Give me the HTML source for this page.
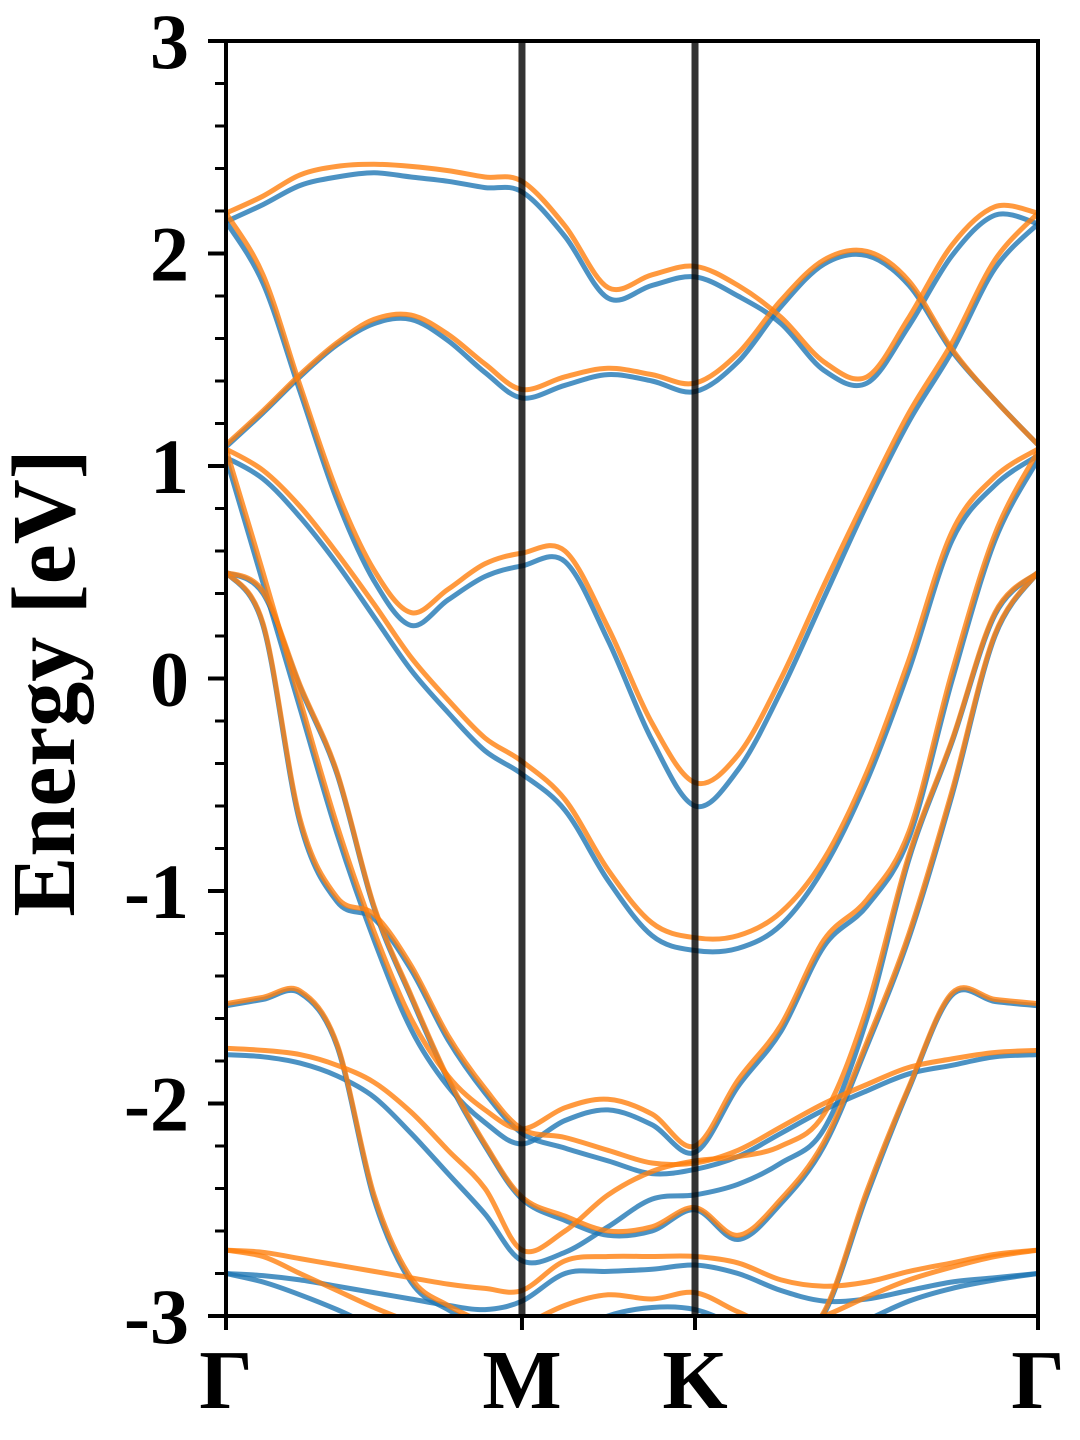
<!DOCTYPE html>
<html><head><meta charset="utf-8"><style>
html,body{margin:0;padding:0;background:#fff;}
svg{display:block;}
text{font-family:"Liberation Serif",serif;font-weight:bold;fill:#000;}
</style></head><body>
<svg id="chart" width="1080" height="1440" viewBox="0 0 1080 1440" xmlns="http://www.w3.org/2000/svg">
<defs><clipPath id="plotclip"><rect x="226" y="41" width="812" height="1275"/></clipPath></defs>
<rect x="0" y="0" width="1080" height="1440" fill="#fff"/>
<g id="bands" clip-path="url(#plotclip)"></g>
<g id="axes"></g>
</svg>
<script>
// k-path coordinates (fraction along path)
const kGrid = [0,0.0456,0.0911,0.1367,0.1823,0.2278,0.2734,0.3190,0.3645,0.4175,0.4704,0.5246,0.5776,0.6305,0.6835,0.7365,0.7894,0.8411,0.8941,0.9470,1];
const kTicks = [0,0.3645,0.5776,1];
const kLabels = ["Γ","M","K","Γ"];
const yTicks = [3,2,1,0,-1,-2,-3];
const yTickLabels = ["3","2","1","0","-1","-2","-3"];

const blueA = [2.15,2.23,2.32,2.36,2.38,2.36,2.34,2.31,2.29,2.08,1.79,1.85,1.89,1.80,1.67,1.45,1.39,1.66,1.99,2.18,2.14];
const orangeA = [2.19,2.27,2.37,2.41,2.42,2.41,2.39,2.36,2.34,2.13,1.84,1.90,1.94,1.85,1.70,1.49,1.42,1.70,2.04,2.22,2.19];
const blueB = [1.09,1.25,1.42,1.57,1.67,1.69,1.59,1.44,1.32,1.38,1.43,1.40,1.35,1.49,1.75,1.95,1.99,1.85,1.54,1.31,1.10];
const orangeB = [1.10,1.26,1.43,1.58,1.69,1.71,1.62,1.48,1.36,1.42,1.46,1.43,1.39,1.53,1.78,1.97,2.01,1.87,1.55,1.31,1.10];
const blueC = [2.15,1.86,1.35,0.84,0.46,0.25,0.37,0.48,0.53,0.55,0.18,-0.29,-0.60,-0.43,-0.06,0.38,0.82,1.21,1.54,1.93,2.14];
const orangeC = [2.19,1.90,1.38,0.88,0.51,0.31,0.42,0.54,0.59,0.60,0.24,-0.21,-0.49,-0.36,0.0,0.44,0.86,1.25,1.58,1.97,2.19];
const blueD = [1.04,0.94,0.76,0.54,0.29,0.04,-0.16,-0.34,-0.45,-0.62,-0.95,-1.21,-1.28,-1.27,-1.16,-0.89,-0.48,0.04,0.65,0.91,1.05];
const orangeD = [1.08,0.98,0.81,0.59,0.35,0.10,-0.10,-0.28,-0.39,-0.57,-0.90,-1.15,-1.22,-1.21,-1.10,-0.85,-0.44,0.09,0.69,0.95,1.08];
const blueE1 = [1.04,0.45,-0.14,-0.73,-1.23,-1.65,-1.92,-2.09,-2.19,-2.08,-2.03,-2.10,-2.23,-1.92,-1.66,-1.26,-1.07,-0.75,-0.01,0.65,1.03];
const orangeE1 = [1.08,0.50,-0.10,-0.69,-1.19,-1.60,-1.87,-2.03,-2.12,-2.02,-1.98,-2.05,-2.20,-1.89,-1.63,-1.23,-1.04,-0.72,0.03,0.68,1.07];
const blueE2 = [0.50,0.25,-0.68,-1.05,-1.13,-1.37,-1.70,-1.95,-2.14,-2.21,-2.27,-2.33,-2.31,-2.25,-2.14,-2.03,-1.94,-1.86,-1.82,-1.78,-1.77];
const orangeE2 = [0.50,0.26,-0.66,-1.03,-1.11,-1.35,-1.68,-1.93,-2.12,-2.16,-2.22,-2.28,-2.28,-2.22,-2.11,-2.00,-1.91,-1.83,-1.79,-1.76,-1.75];
const blueE3 = [0.50,0.40,-0.04,-0.45,-1.08,-1.50,-1.89,-2.20,-2.45,-2.55,-2.62,-2.60,-2.50,-2.64,-2.47,-2.20,-1.73,-1.22,-0.55,0.20,0.50];
const orangeE3 = [0.50,0.41,-0.03,-0.44,-1.07,-1.49,-1.88,-2.19,-2.44,-2.53,-2.60,-2.58,-2.49,-2.62,-2.45,-2.18,-1.71,-1.20,-0.53,0.21,0.50];
const blueF = [-1.77,-1.78,-1.81,-1.87,-1.97,-2.14,-2.33,-2.52,-2.74,-2.70,-2.58,-2.45,-2.43,-2.38,-2.28,-2.12,-1.60,-0.85,-0.30,0.30,0.50];
const orangeF = [-1.74,-1.75,-1.77,-1.82,-1.90,-2.04,-2.22,-2.40,-2.69,-2.60,-2.43,-2.32,-2.27,-2.25,-2.20,-2.05,-1.55,-0.83,-0.29,0.31,0.50];
const blueG = [-1.54,-1.51,-1.48,-1.73,-2.45,-2.84,-2.97,-3.05,-3.10,-3.20,-3.30,-3.30,-3.30,-3.25,-3.15,-2.99,-2.43,-1.93,-1.49,-1.52,-1.54];
const orangeG = [-1.53,-1.50,-1.47,-1.72,-2.43,-2.82,-2.95,-3.03,-3.08,-3.20,-3.30,-3.30,-3.30,-3.25,-3.14,-2.98,-2.41,-1.92,-1.48,-1.51,-1.53];
const blueH = [-2.80,-2.81,-2.83,-2.86,-2.89,-2.92,-2.95,-2.97,-2.93,-2.80,-2.79,-2.78,-2.76,-2.80,-2.88,-2.93,-2.92,-2.88,-2.84,-2.82,-2.80];
const orangeH = [-2.69,-2.70,-2.73,-2.76,-2.79,-2.82,-2.85,-2.87,-2.88,-2.74,-2.72,-2.72,-2.72,-2.75,-2.83,-2.86,-2.84,-2.79,-2.75,-2.71,-2.69];
const blueI = [-2.80,-2.84,-2.90,-2.97,-3.05,-3.12,-3.18,-3.22,-3.25,-3.10,-3.00,-2.96,-2.97,-3.05,-3.15,-3.12,-3.02,-2.93,-2.87,-2.83,-2.80];
const orangeI = [-2.69,-2.72,-2.80,-2.88,-2.96,-3.03,-3.10,-3.15,-3.05,-2.95,-2.90,-2.92,-2.89,-2.98,-3.06,-3.00,-2.91,-2.83,-2.77,-2.72,-2.69];

const blueBands = [blueA,blueB,blueC,blueD,blueE1,blueE2,blueE3,blueF,blueG,blueH,blueI];
const orangeBands = [orangeA,orangeB,orangeC,orangeD,orangeE1,orangeE2,orangeE3,orangeF,orangeG,orangeH,orangeI];
const bandNames = ["a","b","c","d","e1","e2","e3","f","g","h","i"];

const X0=226, X1=1038, Y0=41, Y1=1316, EMAX=3, EMIN=-3;
function xScale(k){return X0+(X1-X0)*k;}
function yScale(e){return Y0+(EMAX-e)/(EMAX-EMIN)*(Y1-Y0);}
const NS="http://www.w3.org/2000/svg";

function smoothPath(vals){
  const p=vals.map((v,i)=>[xScale(kGrid[i]),yScale(v)]);
  let d="M"+p[0][0].toFixed(1)+","+p[0][1].toFixed(1);
  for(let i=0;i<p.length-1;i++){
    const p0=p[Math.max(0,i-1)],p1=p[i],p2=p[i+1],p3=p[Math.min(p.length-1,i+2)];
    const c1x=p1[0]+(p2[0]-p0[0])/6,c1y=p1[1]+(p2[1]-p0[1])/6;
    const c2x=p2[0]-(p3[0]-p1[0])/6,c2y=p2[1]-(p3[1]-p1[1])/6;
    d+=" C"+c1x.toFixed(1)+","+c1y.toFixed(1)+" "+c2x.toFixed(1)+","+c2y.toFixed(1)+" "+p2[0].toFixed(1)+","+p2[1].toFixed(1);
  }
  return d;
}
const bandsG=document.getElementById('bands');
function drawSet(set,color,prefix){
  set.forEach((vals,i)=>{
    const path=document.createElementNS(NS,'path');
    path.setAttribute('d',smoothPath(vals));
    path.setAttribute('fill','none');
    path.setAttribute('stroke',color);
    path.setAttribute('stroke-width','5');
    path.setAttribute('stroke-opacity','0.8');
    
    
    bandsG.appendChild(path);
  });
}
drawSet(blueBands,'#1f77b4','blue');
drawSet(orangeBands,'#ff7f0e','orange');

const axesG=document.getElementById('axes');
kTicks.slice(1,3).forEach((k,i)=>{
  const l=document.createElementNS(NS,'line');
  l.setAttribute('x1',xScale(k));l.setAttribute('x2',xScale(k));
  l.setAttribute('y1',Y0);l.setAttribute('y2',Y1);
  l.setAttribute('stroke','#000');l.setAttribute('stroke-opacity','0.8');l.setAttribute('stroke-width','7');
  
  
  axesG.appendChild(l);
});
const fr=document.createElementNS(NS,'rect');
fr.setAttribute('x',X0);fr.setAttribute('y',Y0);fr.setAttribute('width',X1-X0);fr.setAttribute('height',Y1-Y0);
fr.setAttribute('fill','none');fr.setAttribute('stroke','#000');fr.setAttribute('stroke-width','4');


axesG.appendChild(fr);
for(let m=0;m<=30;m++){
  const e=EMIN+m*0.2;
  if(m%5===0) continue;
  const t=document.createElementNS(NS,'line');
  t.setAttribute('x1',X0-11);t.setAttribute('x2',X0);
  t.setAttribute('y1',yScale(e));t.setAttribute('y2',yScale(e));
  t.setAttribute('stroke','#000');t.setAttribute('stroke-width','3');
  
  
  axesG.appendChild(t);
}
yTicks.forEach((e,i)=>{
  const t=document.createElementNS(NS,'line');
  t.setAttribute('x1',X0-18);t.setAttribute('x2',X0);
  t.setAttribute('y1',yScale(e));t.setAttribute('y2',yScale(e));
  t.setAttribute('stroke','#000');t.setAttribute('stroke-width','4');
  
  
  axesG.appendChild(t);
  const tx=document.createElementNS(NS,'text');
  tx.setAttribute('x',189);tx.setAttribute('y',yScale(e)+27);
  tx.setAttribute('text-anchor','end');tx.setAttribute('font-size','78');
  tx.textContent=yTickLabels[i];
  
  
  axesG.appendChild(tx);
});
kTicks.forEach((k,i)=>{
  const t=document.createElementNS(NS,'line');
  t.setAttribute('x1',xScale(k));t.setAttribute('x2',xScale(k));
  t.setAttribute('y1',Y1);t.setAttribute('y2',Y1+14);
  t.setAttribute('stroke','#000');t.setAttribute('stroke-width','4');
  
  
  axesG.appendChild(t);
  const tx=document.createElementNS(NS,'text');
  tx.setAttribute('x',xScale(k));tx.setAttribute('y',1408);
  tx.setAttribute('text-anchor','middle');tx.setAttribute('font-size','84');
  tx.textContent=kLabels[i];
  
  
  axesG.appendChild(tx);
});
const yl=document.createElementNS(NS,'text');
yl.setAttribute('x',0);yl.setAttribute('y',0);
yl.setAttribute('transform','translate(74,683) rotate(-90)');
yl.setAttribute('text-anchor','middle');yl.setAttribute('font-size','90');
yl.textContent='Energy [eV]';


axesG.appendChild(yl);
</script>
</body></html>
